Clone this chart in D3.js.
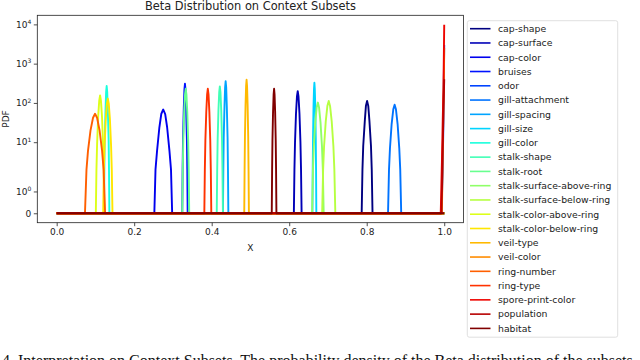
<!DOCTYPE html>
<html>
<head>
<meta charset="utf-8">
<script src="https://cdnjs.cloudflare.com/ajax/libs/d3/7.8.5/d3.min.js"></script>
<style>
  body { margin: 0; background: #fff; }
  svg text { font-family: "DejaVu Sans", sans-serif; }
</style>
</head>
<body>
<script>
// series names, legend order (jet colormap from first to last)
const names = ['cap-shape', 'cap-surface', 'cap-color', 'bruises', 'odor',
  'gill-attachment', 'gill-spacing', 'gill-size', 'gill-color', 'stalk-shape',
  'stalk-root', 'stalk-surface-above-ring', 'stalk-surface-below-ring',
  'stalk-color-above-ring', 'stalk-color-below-ring', 'veil-type', 'veil-color',
  'ring-number', 'ring-type', 'spore-print-color', 'population', 'habitat'];

// x positions / pdf values, one pair of arrays per series
const xsList = [
  [0, 0.787, 0.789, 0.791, 0.795, 0.798, 0.801, 0.804, 0.807, 0.811, 0.813, 0.815, 1],
  [0, 0.612, 0.6135, 0.615, 0.6175, 0.620, 0.622, 0.624, 0.6265, 0.629, 0.6305, 0.632, 1],
  [0, 0.252, 0.255, 0.259, 0.265, 0.270, 0.275, 0.280, 0.285, 0.291, 0.295, 0.298, 1],
  [0, 0.324, 0.325, 0.326, 0.328, 0.3296, 0.331, 0.3324, 0.334, 0.336, 0.337, 0.338, 1],
  [0, 0.993, 0.996, 0.998, 0.999, 1.0],
  [0, 0.855, 0.8575, 0.860, 0.8643, 0.8686, 0.872, 0.8754, 0.8797, 0.884, 0.8865, 0.889, 1],
  [0, 0.429, 0.430, 0.431, 0.433, 0.4346, 0.436, 0.4374, 0.439, 0.441, 0.442, 0.443, 1],
  [0, 0.660, 0.6607, 0.6615, 0.6627, 0.664, 0.665, 0.666, 0.6673, 0.6685, 0.6693, 0.670, 1],
  [0, 0.122, 0.123, 0.124, 0.126, 0.1276, 0.129, 0.1304, 0.132, 0.134, 0.135, 0.136, 1],
  [0, 0.413, 0.4142, 0.4154, 0.4174, 0.4194, 0.421, 0.4226, 0.4246, 0.4266, 0.4278, 0.429, 1],
  [0, 0.324, 0.3253, 0.3267, 0.329, 0.3312, 0.333, 0.3348, 0.337, 0.3393, 0.3407, 0.342, 1],
  [0, 0.659, 0.6612, 0.6635, 0.6672, 0.671, 0.674, 0.677, 0.6808, 0.6845, 0.6868, 0.689, 1],
  [0, 0.685, 0.6875, 0.690, 0.6943, 0.6986, 0.702, 0.7054, 0.7097, 0.714, 0.7165, 0.719, 1],
  [0, 0.101, 0.1026, 0.1043, 0.107, 0.1098, 0.112, 0.1142, 0.117, 0.1197, 0.1214, 0.123, 1],
  [0, 0.120, 0.1218, 0.1236, 0.1266, 0.1296, 0.132, 0.1344, 0.1374, 0.1404, 0.1422, 0.144, 1],
  [0, 0.484, 0.4849, 0.4858, 0.4873, 0.4888, 0.490, 0.4912, 0.4927, 0.4942, 0.4951, 0.496, 1],
  [0, 0.994, 0.997, 0.999, 1.0],
  [0, 0.073, 0.0769, 0.0808, 0.0873, 0.0938, 0.099, 0.1042, 0.1107, 0.1172, 0.1211, 0.125, 1],
  [0, 0.381, 0.3823, 0.3837, 0.386, 0.3882, 0.390, 0.3918, 0.394, 0.3963, 0.3977, 0.399, 1],
  [0, 0.991, 0.994, 0.996, 0.998, 0.999, 1.0],
  [0, 0.993, 0.996, 0.998, 1.0],
  [0, 0.555, 0.5559, 0.5568, 0.5583, 0.5598, 0.561, 0.5622, 0.5637, 0.5652, 0.5661, 0.567, 1]
];
const ysList = [
  [0, 0, 2, 8, 34, 85, 112, 84, 35, 8, 2, 0, 0],
  [0, 0, 2, 10, 53, 146, 200, 146, 53, 10, 2, 0, 0],
  [0, 0, 2, 6, 24, 53, 68, 52, 24, 6, 2, 0, 0],
  [0, 0, 2, 12, 74, 218, 308, 218, 74, 12, 2, 0, 0],
  [0, 0, 2, 40, 400, 3000],
  [0, 0, 2, 7, 29, 69, 90, 69, 29, 7, 2, 0, 0],
  [0, 0, 2, 13, 82, 250, 355, 250, 82, 13, 2, 0, 0],
  [0, 0, 2, 13, 77, 230, 325, 230, 77, 13, 2, 0, 0],
  [0, 0, 2, 12, 66, 192, 269, 192, 66, 12, 2, 0, 0],
  [0, 0, 2, 12, 65, 188, 263, 188, 65, 12, 2, 0, 0],
  [0, 0, 2, 11, 59, 165, 229, 165, 59, 11, 2, 0, 0],
  [0, 0, 2, 8, 32, 78, 102, 77, 32, 8, 2, 0, 0],
  [0, 0, 2, 8, 34, 85, 112, 84, 34, 8, 2, 0, 0],
  [0, 0, 2, 9, 44, 114, 155, 114, 44, 9, 2, 0, 0],
  [0, 0, 2, 8, 38, 96, 129, 96, 38, 8, 2, 0, 0],
  [0, 0, 2, 14, 88, 272, 390, 272, 88, 14, 2, 0, 0],
  [0, 0, 20, 300, 2500],
  [0, 0, 2, 6, 20, 42, 53, 42, 20, 6, 2, 0, 0],
  [0, 0, 2, 11, 59, 165, 229, 165, 59, 11, 2, 0, 0],
  [0, 0, 3, 30, 250, 1500, 9800],
  [0, 0, 5, 60, 400],
  [0, 0, 2, 11, 59, 165, 229, 165, 59, 11, 2, 0, 0]
];

const xTicks = [0, 0.2, 0.4, 0.6, 0.8, 1.0];
const yTicks = [0, 1, 10, 100, 1000, 10000];
const yTickExp = ['', '0', '1', '2', '3', '4'];

const W = 640, H = 360;
const plotLeft = 37.3, plotRight = 463.6, plotTop = 15.3, plotBottom = 222.7;

const svg = d3.select('body').append('svg')
    .attr('width', W).attr('height', H);

// jet colormap, matplotlib segment data
const jr = d3.scaleLinear().domain([0, 0.35, 0.66, 0.89, 1]).range([0, 0, 1, 1, 0.5]);
const jg = d3.scaleLinear().domain([0, 0.125, 0.375, 0.64, 0.91, 1]).range([0, 0, 1, 1, 0, 0]);
const jb = d3.scaleLinear().domain([0, 0.11, 0.34, 0.65, 1]).range([0.5, 1, 1, 0, 0]);
function jet(t) {
    return d3.rgb(jr(t) * 255, jg(t) * 255, jb(t) * 255).toString();
}
const color = d3.scaleOrdinal().domain(names)
    .range(names.map((d, i) => jet(i / (names.length - 1))));

// symlog (linthresh 2, linscale 1) then linear
const linthresh = 2, linAdj = 1 / (1 - 0.1);
function symlog(v) {
    if (v <= linthresh) return v / linthresh * linAdj;
    return linAdj + Math.log10(v / linthresh);
}
const yMaxT = symlog(d3.max(ysList, d => d3.max(d)));
const padT = 0.05 * yMaxT;
const yLin = d3.scaleLinear().domain([-padT, yMaxT + padT]).range([plotBottom, plotTop]);
const y = v => yLin(symlog(v));

const x = d3.scaleLinear().domain([-0.05, 1.05]).range([plotLeft, plotRight]);

// curves
const plot = svg.append('g');
const line = d3.line().x(d => x(d[0])).y(d => y(d[1]));
names.forEach(function(n, i) {
    const pts = xsList[i].map((v, j) => [v, ysList[i][j]]);
    plot.append('path')
        .datum(pts)
        .attr('fill', 'none')
        .attr('stroke', color(n))
        .attr('stroke-width', 1.9)
        .attr('stroke-linejoin', 'round')
        .attr('d', line);
});

// frame
svg.append('rect')
    .attr('x', plotLeft).attr('y', plotTop)
    .attr('width', plotRight - plotLeft).attr('height', plotBottom - plotTop)
    .attr('fill', 'none').attr('stroke', '#222').attr('stroke-width', 0.8);

// x axis
const xa = svg.append('g')
    .attr('transform', 'translate(0,' + plotBottom + ')')
    .call(d3.axisBottom(x).tickValues(xTicks).tickFormat(d3.format('.1f')).tickSize(3.5).tickPadding(2.5));
xa.select('.domain').remove();
xa.selectAll('text').attr('font-size', 9).attr('fill', '#222')
    .attr('font-family', 'DejaVu Sans, sans-serif');
xa.selectAll('line').attr('stroke', '#222').attr('stroke-width', 0.8);

// y axis
const ya = svg.append('g')
    .attr('transform', 'translate(' + plotLeft + ',0)')
    .call(d3.axisLeft(yLin).tickValues(yTicks.map(symlog)).tickFormat('').tickSize(3.5));
ya.select('.domain').remove();
ya.selectAll('line').attr('stroke', '#222').attr('stroke-width', 0.8);
yTicks.forEach(function(v, i) {
    const t = svg.append('text')
        .attr('x', plotLeft - 6).attr('y', y(v) + 3.3)
        .attr('text-anchor', 'end')
        .attr('font-size', 9).attr('fill', '#222');
    if (v === 0) {
        t.text('0');
    } else {
        t.append('tspan').text('10');
        t.append('tspan').attr('font-size', 6).attr('dy', -3.5).text(yTickExp[i]);
    }
});

// labels
svg.append('text')
    .attr('x', (plotLeft + plotRight) / 2).attr('y', 9.5)
    .attr('text-anchor', 'middle').attr('font-size', 11.4).attr('fill', '#222')
    .text('Beta Distribution on Context Subsets');
svg.append('text')
    .attr('x', (plotLeft + plotRight) / 2).attr('y', 251)
    .attr('text-anchor', 'middle').attr('font-size', 9).attr('fill', '#222')
    .text('X');
svg.append('text')
    .attr('transform', 'translate(9,' + (plotTop + plotBottom) / 2 + ') rotate(-90)')
    .attr('text-anchor', 'middle').attr('font-size', 9).attr('fill', '#222')
    .text('PDF');

// legend
const lg = svg.append('g');
lg.append('rect')
    .attr('x', 467.3).attr('y', 20.7).attr('width', 150.4).attr('height', 316.5)
    .attr('rx', 2).attr('fill', '#fff').attr('stroke', '#d8d8d8').attr('stroke-width', 0.8);
const rowY = d3.scaleLinear().domain([0, names.length - 1]).range([28.7, 328.4]);
names.forEach(function(n, i) {
    lg.append('line')
        .attr('x1', 470).attr('x2', 490.5)
        .attr('y1', rowY(i)).attr('y2', rowY(i))
        .attr('stroke', color(n)).attr('stroke-width', 1.6);
    lg.append('text')
        .attr('x', 498).attr('y', rowY(i) + 3.3)
        .attr('font-size', 9.3).attr('fill', '#222')
        .text(n);
});

// caption line cut by the bottom edge
svg.append('text')
    .attr('x', 2).attr('y', 366)
    .attr('font-size', 16).attr('fill', '#111')
    .style('font-family', 'Liberation Serif, serif')
    .text('4. Interpretation on Context Subsets. The probability density of the Beta distribution of the subsets');
</script>
</body>
</html>
